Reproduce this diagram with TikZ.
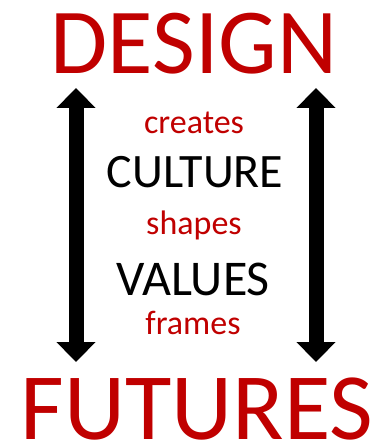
\documentclass[tikz,border=0pt]{standalone}
\usepackage{fontspec}
\setmainfont{Carlito}
\usepackage{tikz}
\usetikzlibrary{arrows.meta}
\definecolor{darkred}{HTML}{C00000}
\tikzset{big/.style={anchor=base, inner sep=0pt, text=darkred, font=\fontsize{93}{93}\selectfont}}
\tikzset{verb/.style={anchor=base, inner sep=0pt, text=darkred, font=\fontsize{34}{34}\selectfont}}
\tikzset{noun/.style={anchor=base, inner sep=0pt, text=black, font=\fontsize{48}{48}\selectfont}}
\tikzset{<->-/.style={line width=15pt, {Triangle[width=38pt,length=20pt]}-{Triangle[width=38pt,length=20pt]}}}

\begin{document}
\begin{tikzpicture}[x=1pt,y=-1pt]
            \useasboundingbox (0,0) rectangle (384,443);

                \node[big] (design) at (194,74) {DESIGN};
                \node[big, font=\fontsize{95}{95}\selectfont] (futures) at (197,439) {FUTURES};
                \node[verb] (creates) at (194,134) {creates};
                \node[noun] (culture) at (195,188) {CULTURE};
                \node[verb] (shapes) at (194,234) {shapes};
                \node[noun, font=\fontsize{50}{50}\selectfont] (values) at (193,295) {VALUES};
                \node[verb] (frames) at (193,334) {frames};

                \coordinate (lt) at (76,88);
                \coordinate (lb) at (76,362);
                \coordinate (rt) at (316,88);
                \coordinate (rb) at (316,362);

                \draw[<->-] (lt) -- (lb);
                \draw[<->-] (rt) -- (rb);

            \end{tikzpicture}
\end{document}
